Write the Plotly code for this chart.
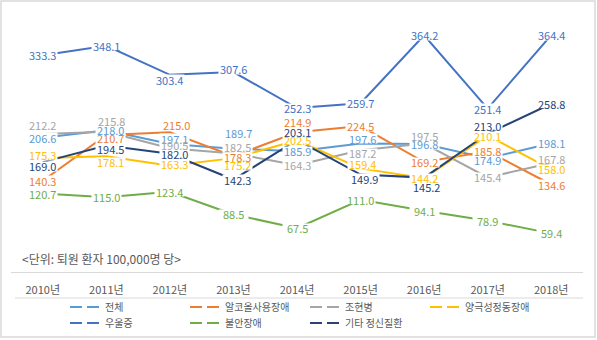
import plotly.graph_objects as go

years = ["2010년", "2011년", "2012년", "2013년", "2014년", "2015년", "2016년", "2017년", "2018년"]

series_names = ["전체", "알코올사용장애", "조현병", "양극성정동장애", "우울증", "불안장애", "기타 정신질환"]
total = [206.6, 218.0, 197.1, 189.7, 185.9, 197.6, 196.8, 174.9, 198.1]
alcohol = [140.3, 210.7, 215.0, 178.3, 214.9, 224.5, 169.2, 185.8, 134.6]
schizo = [212.2, 215.8, 190.5, 182.5, 164.3, 187.2, 197.5, 145.4, 167.8]
bipolar = [175.3, 178.1, 163.3, 175.2, 202.5, 159.4, 144.2, 210.1, 158.0]
depression = [333.3, 348.1, 303.4, 307.6, 252.3, 259.7, 364.2, 251.4, 364.4]
anxiety = [120.7, 115.0, 123.4, 88.5, 67.5, 111.0, 94.1, 78.9, 59.4]
other = [169.0, 194.5, 182.0, 142.3, 203.1, 149.9, 145.2, 213.0, 258.8]
values = [total, alcohol, schizo, bipolar, depression, anxiety, other]
colors = ["#5B9BD5", "#ED7D31", "#A5A5A5", "#FFC000", "#4472C4", "#70AD47", "#264478"]
unit_text = "<단위: 퇴원 환자 100,000명 당>"

# label nudges in pixels: (series index, year index) -> (dx, dy down)
label_nudge = {
    (2, 0): (0, -9), (3, 0): (0, -3), (6, 0): (0, 4),
    (2, 1): (5, -11), (0, 1): (4, 0), (1, 1): (4, 3), (6, 1): (4, 3), (3, 1): (4, 6),
    (1, 2): (7, -7), (0, 2): (5, -5), (2, 2): (5, -3), (6, 2): (5, 0), (3, 2): (5, -2), (4, 2): (0, 5),
    (0, 3): (5, -16), (2, 3): (4, -6), (1, 3): (4, 1), (3, 3): (4, 7), (6, 3): (4, 0), (4, 3): (0, -3),
    (6, 4): (0, -8), (1, 4): (0, -10),
    (0, 5): (2, -5), (2, 5): (2, 3), (3, 5): (2, -4), (6, 5): (4, 4),
    (2, 6): (0, -8), (6, 6): (2, 9),
    (6, 7): (0, -8), (3, 7): (0, 1), (0, 7): (0, 2),
    (2, 8): (0, -4),
}

W, H = 597, 340
L, R, T, B = 11, 14, 10, 68
PW, PH = W - L - R, H - T - B
YMAX = PH / 0.65

def px_x(x):
    return (x - L) / PW

def px_y(y):
    return (H - B - y) / PH

FONT = "Noto Sans CJK KR"

fig = go.Figure()
for name, vals, c in zip(series_names, values, colors):
    fig.add_trace(go.Scatter(x=years, y=vals, mode="lines", name=name,
                             line=dict(color=c, width=2), showlegend=False,
                             hoverinfo="skip"))
# legend-only entries (dashed swatches), split into two rows
for i, (name, c) in enumerate(zip(series_names, colors)):
    fig.add_trace(go.Scatter(x=[None], y=[None], mode="lines", name=name,
                             line=dict(color=c, width=2, dash="12px,5px"),
                             showlegend=True, legend="legend" if i < 4 else "legend2"))

masks, labels = [], []
for si, (vals, c) in enumerate(zip(values, colors)):
    for yi, (yr, v) in enumerate(zip(years, vals)):
        dx, dy = label_nudge.get((si, yi), (0, 0))
        masks.append(dict(x=yr, y=v, xref="x", yref="y", text="&nbsp;",
                          showarrow=False, bgcolor="white", borderpad=0,
                          width=29, height=9, xshift=dx, yshift=-dy,
                          font=dict(size=1, color="white")))
        labels.append(dict(x=yr, y=v, xref="x", yref="y", text=f"{v:.1f}",
                           showarrow=False, borderpad=0,
                           xshift=dx, yshift=-dy,
                           font=dict(family=FONT, size=11, color=c)))
annotations = masks + labels
annotations.append(dict(x=px_x(20), y=px_y(258), xref="paper", yref="paper",
                        xanchor="left", yanchor="middle", showarrow=False,
                        text=unit_text.replace("<", "&lt;").replace(">", "&gt;"),
                        font=dict(family=FONT, size=12, color="#595959")))

shapes = [
    dict(type="line", xref="paper", yref="paper", x0=px_x(15), x1=px_x(583),
         y0=px_y(298), y1=px_y(298), line=dict(color="#D9D9D9", width=1)),
    dict(type="rect", xref="paper", yref="paper", x0=px_x(1), x1=px_x(595),
         y0=px_y(337), y1=px_y(1), line=dict(color="#D9D9D9", width=1.5)),
]

legend_common = dict(orientation="h", xanchor="left", yanchor="middle",
                     entrywidth=75, entrywidthmode="pixels", itemwidth=30,
                     font=dict(family=FONT, size=10, color="#595959"),
                     tracegroupgap=0, bgcolor="rgba(0,0,0,0)")

fig.update_layout(
    width=W, height=H,
    margin=dict(l=L, r=R, t=T, b=B, autoexpand=False),
    paper_bgcolor="white", plot_bgcolor="white",
    font=dict(family=FONT, color="#595959"),
    xaxis=dict(type="category", range=[-0.5, 8.5], showgrid=False, zeroline=False,
               showline=True, linecolor="#D9D9D9", linewidth=1, ticks="",
               tickfont=dict(family=FONT, size=11, color="#595959"),
               ticklabelstandoff=8),
    yaxis=dict(range=[0, YMAX], visible=False, showgrid=False, zeroline=False),
    showlegend=True,
    legend=dict(x=px_x(65), y=px_y(307), **legend_common),
    legend2=dict(x=px_x(65), y=px_y(323), **legend_common),
    annotations=annotations,
    shapes=shapes,
)

fig.write_html("out.html")
